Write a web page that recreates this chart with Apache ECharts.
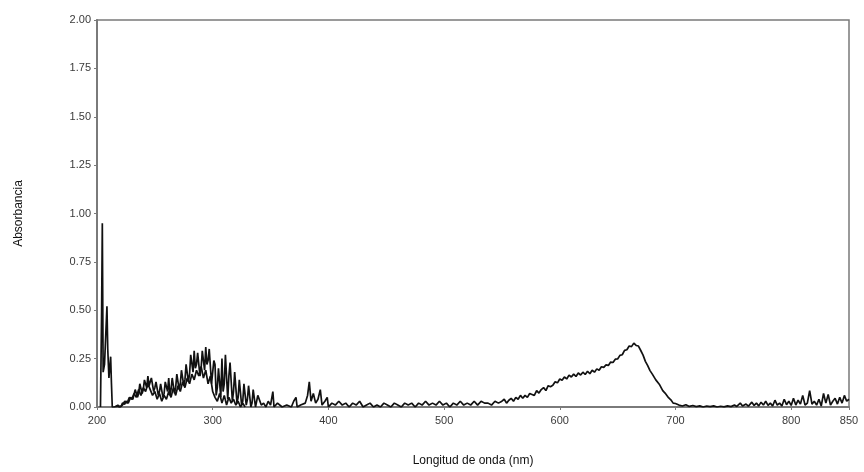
<!DOCTYPE html>
<html>
<head>
<meta charset="utf-8">
<script src="https://cdn.jsdelivr.net/npm/echarts@6/dist/echarts.min.js"></script>
<style>
  html, body { margin: 0; padding: 0; background: #fff; }
  #chart { width: 864px; height: 472px; }
</style>
</head>
<body>
<div id="chart"></div>
<script>
// eje y: absorbancia, eje x: longitud de onda
const yTicks = ['0.00', '0.25', '0.50', '0.75', '1.00', '1.25', '1.50', '1.75', '2.00']

// trazo principal [nm, absorbancia]
const spectrumMain = [
  [203, 0.0], [204, 0.5], [204.6, 0.95], [205.3, 0.18], [206.5, 0.22], [208.6, 0.52], [209.3, 0.3],
  [210.3, 0.15], [211.8, 0.26], [212.5, 0.12], [213.2, 0.0], [215, 0.0], [217, 0.005], [219, 0.0],
  [220, 0.01], [221, 0.005], [222, 0.02], [223, 0.01], [224, 0.015], [225, 0.03], [226, 0.04],
  [227, 0.02], [228, 0.03], [229, 0.05], [230, 0.06], [231, 0.04], [232, 0.05], [233, 0.09],
  [234, 0.08], [235, 0.05], [236, 0.07], [237, 0.12], [238, 0.11], [239, 0.07], [240, 0.09],
  [241, 0.14], [242, 0.13], [243, 0.10], [244, 0.16], [245, 0.11], [246, 0.12], [247, 0.15],
  [248, 0.14], [249, 0.08], [250, 0.10], [251, 0.13], [252, 0.12], [253, 0.06], [254, 0.08],
  [255, 0.12], [256, 0.11], [257, 0.05], [258, 0.07], [259, 0.13], [260, 0.12], [261, 0.08],
  [262, 0.15], [263, 0.06], [264, 0.09], [265, 0.15], [266, 0.14], [267, 0.07], [268, 0.10],
  [269, 0.17], [270, 0.16], [271, 0.09], [272, 0.12], [273, 0.19], [274, 0.18], [275, 0.11],
  [276, 0.14], [277, 0.22], [278, 0.21], [279, 0.13], [280, 0.17], [281, 0.27], [282, 0.26],
  [283, 0.18], [284, 0.29], [285, 0.20], [286, 0.22], [287, 0.28], [288, 0.27], [289, 0.16],
  [290, 0.20], [291, 0.29], [292, 0.28], [293, 0.19], [294, 0.31], [295, 0.22], [296, 0.24],
  [297, 0.30], [298, 0.29], [299, 0.12], [300, 0.18], [301, 0.24], [302, 0.22], [303, 0.06],
  [304, 0.10], [305, 0.20], [306, 0.19], [307, 0.05], [308, 0.25], [309, 0.08], [310, 0.12],
  [311, 0.27], [312, 0.26], [313, 0.04], [314, 0.16], [315, 0.23], [316, 0.22], [317, 0.03],
  [318, 0.08], [319, 0.18], [320, 0.17], [321, 0.02], [322, 0.05], [323, 0.14], [324, 0.13],
  [325, 0.01], [326, 0.03], [327, 0.12], [328, 0.12], [329, 0.01], [330, 0.04], [331, 0.11],
  [332, 0.11], [333, 0.0], [334, 0.02], [335, 0.09], [336, 0.09], [337, 0.0], [338, 0.01],
  [339, 0.06], [340, 0.06], [342, 0.01], [344, 0.02],
  [346, 0.0], [348, 0.03], [350, 0.01], [352, 0.08], [353, 0.0], [356, 0.02], [360, 0.0],
  [364, 0.01], [368, 0.0], [370, 0.03], [372, 0.05], [373, 0.0], [376, 0.01], [380, 0.02],
  [382, 0.06], [383.5, 0.13], [385, 0.03], [387, 0.07], [389, 0.02], [391, 0.04], [393, 0.09],
  [394.5, 0.01], [397, 0.03], [399, 0.05], [400, 0.0], [403, 0.02], [406, 0.01], [409, 0.03],
  [412, 0.01], [415, 0.02], [418, 0.0], [421, 0.02], [424, 0.01], [427, 0.03], [430, 0.0],
  [433, 0.01], [436, 0.02], [439, 0.0], [442, 0.01], [445, 0.0], [448, 0.02], [451, 0.01],
  [454, 0.0], [457, 0.02], [460, 0.01], [463, 0.0], [466, 0.02], [469, 0.01], [472, 0.02],
  [475, 0.0], [478, 0.02], [481, 0.01], [484, 0.03], [487, 0.01], [490, 0.02], [493, 0.01],
  [496, 0.03], [499, 0.01], [502, 0.02], [505, 0.0], [508, 0.02], [511, 0.01], [514, 0.03],
  [517, 0.01], [520, 0.02], [523, 0.01], [526, 0.03], [529, 0.01], [532, 0.03], [535, 0.02],
  [538, 0.02], [541, 0.01], [544, 0.03], [547, 0.02], [550, 0.03], [552, 0.04], [554, 0.02],
  [556, 0.035], [558, 0.045], [560, 0.03], [562, 0.05], [564, 0.04], [566, 0.06], [568, 0.045],
  [570, 0.06], [572, 0.05], [574, 0.07], [576, 0.065], [578, 0.06], [580, 0.085], [582, 0.072],
  [584, 0.09], [586, 0.1], [588, 0.085], [590, 0.11], [592, 0.105], [594, 0.112], [596, 0.13],
  [598, 0.125], [600, 0.145], [602, 0.138], [604, 0.155], [606, 0.145], [608, 0.165], [610, 0.155],
  [612, 0.17], [614, 0.158], [616, 0.176], [618, 0.165], [620, 0.18], [622, 0.168], [624, 0.185],
  [626, 0.172], [628, 0.19], [630, 0.18], [632, 0.197], [634, 0.19], [636, 0.208], [638, 0.205],
  [640, 0.218], [642, 0.215], [644, 0.232], [646, 0.23], [648, 0.247], [650, 0.248], [652, 0.267],
  [654, 0.27], [656, 0.293], [658, 0.296], [660, 0.315], [662, 0.312], [664, 0.33], [666, 0.318],
  [668, 0.315], [670, 0.292], [672, 0.268], [674, 0.236], [676, 0.214], [678, 0.188], [680, 0.17],
  [683, 0.14], [686, 0.118], [689, 0.085], [691, 0.072], [694, 0.048], [696, 0.037], [698, 0.02],
  [700, 0.018], [703, 0.01], [706, 0.005], [709, 0.012], [712, 0.003], [715, 0.008], [718, 0.002],
  [721, 0.006], [724, 0.0], [727, 0.005], [730, 0.002], [733, 0.006], [736, 0.0], [739, 0.004],
  [742, 0.001], [745, 0.006], [748, 0.002], [751, 0.01], [753, 0.003], [756, 0.02], [758, 0.005],
  [761, 0.015], [763, 0.004], [766, 0.025], [768, 0.008], [770, 0.02], [772, 0.006], [774, 0.025],
  [776, 0.01], [778, 0.03], [780, 0.008], [782, 0.02], [784, 0.005], [786, 0.035], [788, 0.01],
  [790, 0.02], [792, 0.005], [794, 0.04], [796, 0.012], [798, 0.03], [800, 0.008], [802, 0.045],
  [804, 0.01], [806, 0.035], [808, 0.015], [810, 0.06], [812, 0.01], [814, 0.02], [816, 0.085],
  [818, 0.015], [820, 0.03], [822, 0.01], [824, 0.04], [826, 0.005], [828, 0.07], [830, 0.02],
  [832, 0.065], [834, 0.01], [836, 0.03], [838, 0.045], [840, 0.015], [842, 0.05], [844, 0.02],
  [846, 0.06], [848, 0.03], [850, 0.04]
]

// segundo trazo, solo en la zona 215-330 nm
const spectrumSecond = [
  [216, 0.0], [218, 0.01], [220, 0.0], [222, 0.01], [224, 0.03], [226, 0.02], [228, 0.05],
  [230, 0.04], [232, 0.07], [234, 0.05], [236, 0.09], [238, 0.06], [240, 0.10], [242, 0.08],
  [244, 0.12], [246, 0.09], [248, 0.06], [250, 0.08], [252, 0.04], [254, 0.07], [256, 0.03],
  [258, 0.06], [260, 0.04], [262, 0.08], [264, 0.05], [266, 0.10], [268, 0.06], [270, 0.11],
  [272, 0.08], [274, 0.13], [276, 0.10], [278, 0.15], [280, 0.12], [282, 0.17], [284, 0.14],
  [286, 0.19], [288, 0.16], [290, 0.21], [292, 0.15], [294, 0.19], [296, 0.12], [298, 0.16],
  [300, 0.08], [302, 0.05], [304, 0.03], [306, 0.07], [308, 0.02], [310, 0.06], [312, 0.01],
  [314, 0.05], [316, 0.02], [318, 0.04], [320, 0.01], [322, 0.03], [324, 0.0], [326, 0.02],
  [328, 0.0]
]

const myChart = echarts.init(document.getElementById('chart'))

const axisGray = '#7a7a7a'
const labelStyle = { color: '#3a3a3a', fontSize: 11, fontFamily: 'Liberation Sans, Arial, sans-serif' }

const option = {
  animation: false,
  backgroundColor: '#fff',
  grid: {
    left: 97,
    right: 15,
    top: 20,
    bottom: 64,
    show: true,
    borderColor: axisGray,
    borderWidth: 1.5
  },
  xAxis: {
    type: 'value',
    min: 200,
    max: 850,
    interval: 100,
    name: 'Longitud de onda (nm)',
    nameLocation: 'middle',
    nameGap: 48,
    nameTextStyle: { color: '#111', fontSize: 12, fontFamily: 'Liberation Sans, Arial, sans-serif' },
    axisLine: { onZero: false, lineStyle: { color: axisGray, width: 2 } },
    axisTick: { show: true, length: 3, lineStyle: { color: axisGray } },
    axisLabel: Object.assign({ margin: 8 }, labelStyle),
    splitLine: { show: false }
  },
  yAxis: {
    type: 'value',
    min: 0,
    max: 2,
    interval: 0.25,
    name: 'Absorbancia',
    nameLocation: 'middle',
    nameGap: 72,
    nameTextStyle: { color: '#111', fontSize: 12, fontFamily: 'Liberation Sans, Arial, sans-serif' },
    axisLine: { show: true, lineStyle: { color: axisGray, width: 2 } },
    axisTick: { show: true, length: 3, lineStyle: { color: axisGray } },
    axisLabel: Object.assign({
      margin: 6,
      formatter: (v) => yTicks[Math.round(v / 0.25)]
    }, labelStyle),
    splitLine: { show: false }
  },
  series: [
    {
      type: 'line',
      data: spectrumMain,
      showSymbol: false,
      lineStyle: { color: '#111', width: 1.7 },
      z: 3
    },
    {
      type: 'line',
      data: spectrumSecond,
      showSymbol: false,
      lineStyle: { color: '#111', width: 1.7 },
      z: 3
    }
  ]
}

myChart.setOption(option)
</script>
</body>
</html>
